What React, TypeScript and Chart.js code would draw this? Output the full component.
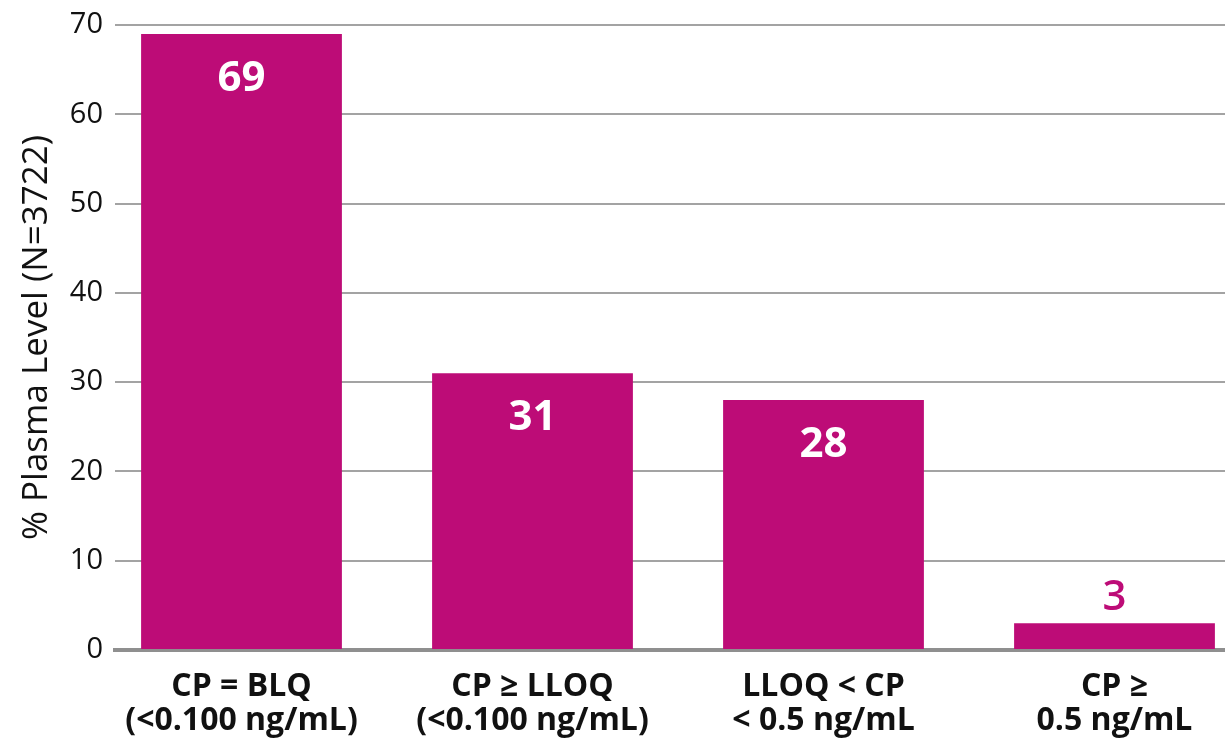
import React, { useEffect, useRef } from "react";
import { Chart, registerables } from "chart.js";

Chart.register(...registerables);

const categories: string[][] = [
  ["CP = BLQ", "(<0.100 ng/mL)"],
  ["CP ≥ LLOQ", "(<0.100 ng/mL)"],
  ["LLOQ < CP", "< 0.5 ng/mL"],
  ["CP ≥", "0.5 ng/mL"],
];
const values: number[] = [69, 31, 28, 3];
const yTicks: number[] = [0, 10, 20, 30, 40, 50, 60, 70];
const yTitle = "% Plasma Level (N=3722)";

const BAR = "#bd0c77";
const FONT = "'Open Sans', 'Noto Sans', sans-serif";

const labelPlugin = {
  id: "barLabels",
  afterDatasetsDraw(chart: any) {
    const ctx = chart.ctx;
    const meta = chart.getDatasetMeta(0);
    ctx.save();
    ctx.textAlign = "center";
    ctx.textBaseline = "middle";
    meta.data.forEach((el: any, i: number) => {
      const v = values[i];
      if (v >= 10) {
        ctx.font = `bold 42px ${FONT}`;
        ctx.fillStyle = "#ffffff";
        ctx.fillText(String(v), el.x, el.y + 45);
      } else {
        ctx.fillStyle = BAR;
        ctx.font = `600 42px ${FONT}`;
        ctx.fillText(String(v), el.x, el.y - 25);
      }
    });
    ctx.restore();
  },
};

export default function App() {
  const ref = useRef<HTMLCanvasElement>(null);
  useEffect(() => {
    document.body.style.margin = "0";
    const unit = 291;
    const xMin = -(241.5 - 115) / unit;
    const xMax = xMin + 1110 / unit;
    const chart = new Chart(ref.current!, {
      type: "bar",
      data: {
        datasets: [
          {
            data: values.map((v, i) => ({ x: i, y: v })),
            backgroundColor: BAR,
            borderWidth: 0,
            categoryPercentage: 1,
            barPercentage: 0.69,
          },
        ],
      },
      options: {
        animation: false,
        responsive: false,
        maintainAspectRatio: false,
        layout: { padding: { top: 25, right: 0, bottom: 0, left: 0 } },
        plugins: { legend: { display: false }, tooltip: { enabled: false } },
        scales: {
          x: {
            type: "linear",
            offset: false,
            min: xMin,
            max: xMax,
            grid: { display: false, drawTicks: false, offset: false },
            border: { display: true, color: "#8f8f8f", width: 4 },
            afterFit: (s: any) => {
              s.height = 92;
              s.paddingLeft = 0;
              s.paddingRight = 0;
            },
            afterBuildTicks: (s: any) => {
              s.ticks = categories.map((_, i) => ({ value: i }));
            },
            ticks: {
              autoSkip: false,
              maxRotation: 0,
              padding: 20,
              color: "#111111",
              font: { family: FONT, size: 32, weight: "bold", lineHeight: 1.06 },
              callback: (v: any) => (Number.isInteger(v) ? categories[v] : ""),
            },
          },
          y: {
            min: 0,
            max: 70,
            afterFit: (s: any) => {
              s.width = 115;
              s.paddingTop = 0;
              s.paddingBottom = 0;
            },
            afterBuildTicks: (s: any) => {
              s.ticks = yTicks.map((v) => ({ value: v }));
            },
            grid: {
              drawTicks: false,
              color: (c: any) => (c.tick && c.tick.value === 0 ? "rgba(0,0,0,0)" : "#a3a3a3"),
              lineWidth: 2,
            },
            border: { display: false },
            ticks: {
              padding: 12,
              color: "#111111",
              font: { family: FONT, size: 29 },
            },
            title: {
              display: true,
              text: yTitle,
              color: "#111111",
              font: { family: FONT, size: 35 },
              padding: { top: 16, bottom: 0 },
            },
          },
        },
      },
      plugins: [labelPlugin],
    });
    return () => chart.destroy();
  }, []);
  return (
    <div style={{ position: "absolute", left: 0, top: 0, width: 1225, height: 742, background: "#fff" }}>
      <canvas ref={ref} width={1225} height={742} style={{ width: 1225, height: 742 }} />
    </div>
  );
}
